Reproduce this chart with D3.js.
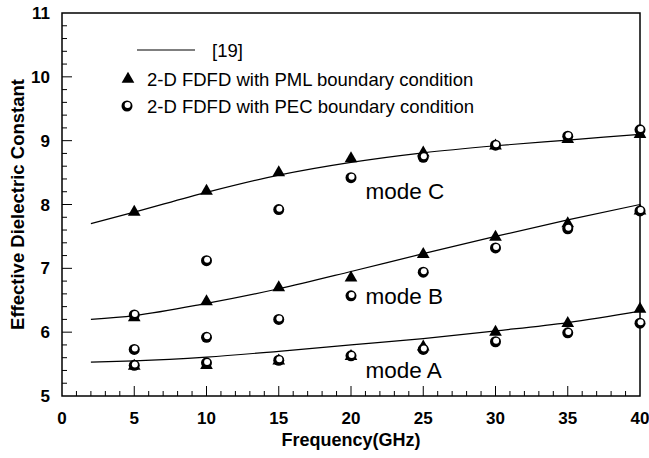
<!DOCTYPE html>
<html>
<head>
<meta charset="utf-8">
<script src="https://cdn.jsdelivr.net/npm/d3@7"></script>
<style>
  body { margin: 0; background: #fff; }
  svg { display: block; font-family: Arial, "Liberation Sans", sans-serif; }
</style>
</head>
<body>
<svg id="chart" width="649" height="458"></svg>
<script>
// reference curve [19], sampled along the line
const lineFreq = [2, 5, 10, 15, 20, 25, 30, 35, 40];
const modeA_line = [5.53, 5.55, 5.61, 5.70, 5.80, 5.90, 6.02, 6.15, 6.33];
const modeB_line = [6.20, 6.26, 6.45, 6.68, 6.95, 7.23, 7.50, 7.76, 8.00];
const modeC_line = [7.70, 7.88, 8.19, 8.46, 8.66, 8.81, 8.92, 9.01, 9.10];

// 2-D FDFD, PML boundary (triangles)
const pointFreq = [5, 10, 15, 20, 25, 30, 35, 40];
const pmlA = [5.47, 5.48, 5.55, 5.62, 5.77, 6.00, 6.14, 6.36];
const pmlB = [6.23, 6.48, 6.70, 6.85, 7.22, 7.49, 7.70, 7.90];
const pmlC = [7.88, 8.21, 8.50, 8.72, 8.81, 8.92, 9.02, 9.10];

// 2-D FDFD, PEC boundary (circles)
const pecLow = [5.48, 5.52, 5.56, 5.63, 5.73, 5.85, 5.99, 6.14];
const pecMid = [5.73, 5.92, 6.20, 6.57, 6.94, 7.32, 7.62, 7.90];
const pecHigh = [6.27, 7.12, 7.92, 8.42, 8.74, 8.93, 9.07, 9.17];

const xTicks = [0, 5, 10, 15, 20, 25, 30, 35, 40];
const yTicks = [5, 6, 7, 8, 9, 10, 11];
const modeLabels = [
  { name: "mode C", f: 21.0, v: 8.09 },
  { name: "mode B", f: 21.0, v: 6.44 },
  { name: "mode A", f: 21.0, v: 5.28 }
];

var svg = d3.select("#chart");
var plotLeft = 62, plotRight = 640, plotTop = 13, plotBottom = 396;

var x = d3.scaleLinear().domain([0, 40]).range([plotLeft, plotRight]);
var y = d3.scaleLinear().domain([5, 11]).range([plotBottom, plotTop]);

var g = svg.append("g");

// frame
g.append("rect")
  .attr("x", plotLeft).attr("y", plotTop)
  .attr("width", plotRight - plotLeft).attr("height", plotBottom - plotTop)
  .attr("fill", "none").attr("stroke", "#000").attr("stroke-width", 1.5);

// x ticks (inside)
g.selectAll(".xminor")
  .data(d3.range(1, 40))
  .enter().append("line")
  .attr("x1", d => x(d)).attr("x2", d => x(d))
  .attr("y1", plotBottom).attr("y2", d => plotBottom - (d % 5 == 0 ? 10 : 5))
  .attr("stroke", "#000").attr("stroke-width", 1);

g.selectAll(".xlab")
  .data(xTicks)
  .enter().append("text")
  .attr("x", d => x(d)).attr("y", 424)
  .attr("text-anchor", "middle")
  .attr("font-size", 17).attr("font-weight", "bold")
  .text(d => d);

// y ticks (inside)
g.selectAll(".yminor")
  .data(d3.range(26, 55).map(d => d / 5))
  .enter().append("line")
  .attr("y1", d => y(d)).attr("y2", d => y(d))
  .attr("x1", plotLeft).attr("x2", d => plotLeft + (Math.abs(d - Math.round(d)) < 0.01 ? 10 : 5))
  .attr("stroke", "#000").attr("stroke-width", 1);

g.selectAll(".ylab")
  .data(yTicks)
  .enter().append("text")
  .attr("x", 50).attr("y", d => y(d) + 6)
  .attr("text-anchor", "end")
  .attr("font-size", 17).attr("font-weight", "bold")
  .text(d => d);

// axis titles
g.append("text")
  .attr("x", x(20)).attr("y", 446)
  .attr("text-anchor", "middle")
  .attr("font-size", 18).attr("font-weight", "bold")
  .text("Frequency(GHz)");

g.append("text")
  .attr("transform", "translate(24," + y(8) + ") rotate(-90)")
  .attr("text-anchor", "middle")
  .attr("font-size", 18.5).attr("font-weight", "bold")
  .text("Effective Dielectric Constant");

// curves
var line = d3.line()
  .x(d => x(d[0])).y(d => y(d[1]))
  .curve(d3.curveMonotoneX);

[modeA_line, modeB_line, modeC_line].forEach(function (vals) {
  g.append("path")
    .datum(lineFreq.map((f, i) => [f, vals[i]]))
    .attr("d", line)
    .attr("fill", "none").attr("stroke", "#000").attr("stroke-width", 1.2);
});

// markers
var tri = d3.symbol().type(d3.symbolTriangle).size(70);

function drawTriangle(sel, cx, cy) {
  sel.append("path")
    .attr("d", tri)
    .attr("transform", "translate(" + cx + "," + cy + ")")
    .attr("fill", "#000");
}

function drawCircle(sel, cx, cy) {
  sel.append("circle")
    .attr("cx", cx).attr("cy", cy).attr("r", 5.5)
    .attr("fill", "#000");
  sel.append("circle")
    .attr("cx", cx + 0.6).attr("cy", cy - 0.9).attr("r", 3)
    .attr("fill", "#fff");
}

var marks = g.append("g");
[pmlA, pmlB, pmlC].forEach(function (vals) {
  pointFreq.forEach((f, i) => drawTriangle(marks, x(f), y(vals[i])));
});
[pecLow, pecMid, pecHigh].forEach(function (vals) {
  pointFreq.forEach((f, i) => drawCircle(marks, x(f), y(vals[i])));
});

// mode labels
g.selectAll(".mode")
  .data(modeLabels)
  .enter().append("text")
  .attr("x", d => x(d.f)).attr("y", d => y(d.v))
  .attr("font-size", 22.5)
  .text(d => d.name);

// legend
var lg = g.append("g");
lg.append("line")
  .attr("x1", 137).attr("x2", 195).attr("y1", 50).attr("y2", 50)
  .attr("stroke", "#000").attr("stroke-width", 1.2);
lg.append("text").attr("x", 212).attr("y", 57).attr("font-size", 18.5).text("[19]");
drawTriangle(lg, 128, 79);
lg.append("text").attr("x", 147).attr("y", 86).attr("font-size", 18.5)
  .text("2-D FDFD with PML boundary condition");
drawCircle(lg, 127, 106);
lg.append("text").attr("x", 147).attr("y", 113).attr("font-size", 18.5)
  .text("2-D FDFD with PEC boundary condition");
</script>
</body>
</html>
